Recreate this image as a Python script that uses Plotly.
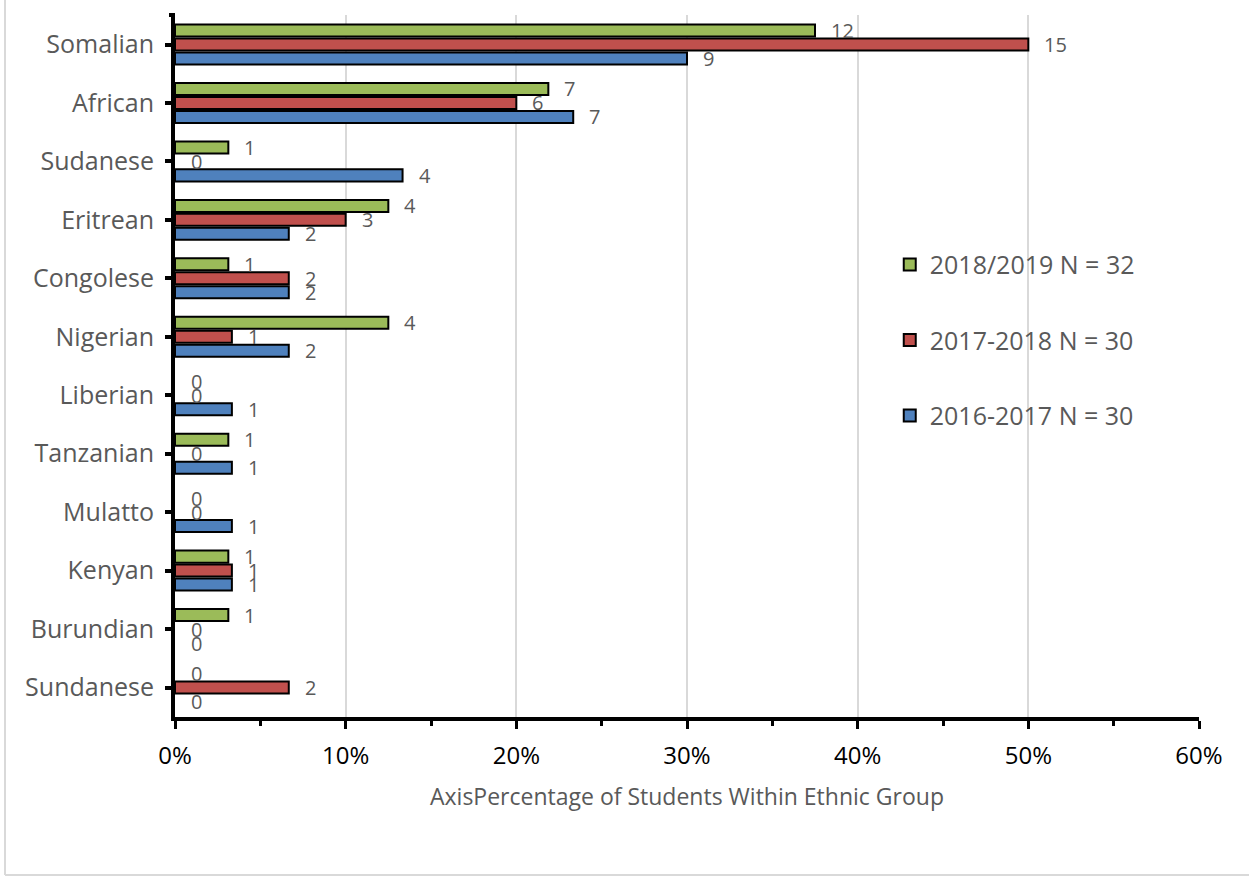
import plotly.graph_objects as go

# Ethnic groups, listed top to bottom
groups = ["Somalian", "African", "Sudanese", "Eritrean", "Congolese", "Nigerian",
          "Liberian", "Tanzanian", "Mulatto", "Kenyan", "Burundian", "Sundanese"]

# Student counts per school year
counts_1819 = [12, 7, 1, 4, 1, 4, 0, 1, 0, 1, 1, 0]
counts_1718 = [15, 6, 0, 3, 2, 1, 0, 0, 0, 1, 0, 2]
counts_1617 = [9, 7, 4, 2, 2, 2, 1, 1, 1, 1, 0, 0]

# Cohort sizes
n_1819 = 32
n_1718 = 30
n_1617 = 30

series = [
    ("2018/2019 N = 32", counts_1819, n_1819, "#9BBB59"),
    ("2017-2018 N = 30", counts_1718, n_1718, "#C0504D"),
    ("2016-2017 N = 30", counts_1617, n_1617, "#4F81BD"),
]

W, H = 1249, 876
ML, MR, MT, MB = 175, 50, 15, 159
PW, PH = W - ML - MR, H - MT - MB

FONT = "Open Sans"
GRAY = "#595959"

fig = go.Figure()
annotations = []
label_shift = [14, 0, -14]

for i, (name, counts, n, color) in enumerate(series):
    shares = [c / n for c in counts]
    # empty bars get no outline
    outline = [2 if c > 0 else 0 for c in counts]
    fig.add_trace(go.Bar(
        y=groups, x=shares, orientation="h", name=name,
        marker=dict(color=color, line=dict(color="black", width=outline)),
        legendgroup=name, hoverinfo="skip",
    ))
    for g, c, s in zip(groups, counts, shares):
        annotations.append(dict(
            x=s, y=g, xref="x", yref="y", text=str(c), showarrow=False,
            xanchor="left", yanchor="middle", xshift=14, yshift=label_shift[i],
            font=dict(family=FONT, size=20, color=GRAY),
        ))

def px_to_paper_x(px):
    return (px - ML) / PW

def px_to_paper_y(py):
    return (H - MB - py) / PH

shapes = [
    # light outer frame (left and bottom edges)
    dict(type="line", xref="paper", yref="paper",
         x0=px_to_paper_x(5), x1=px_to_paper_x(5),
         y0=px_to_paper_y(875), y1=px_to_paper_y(0),
         line=dict(color="#d9d9d9", width=2)),
    dict(type="line", xref="paper", yref="paper",
         x0=px_to_paper_x(5), x1=px_to_paper_x(1249),
         y0=px_to_paper_y(875), y1=px_to_paper_y(875),
         line=dict(color="#d9d9d9", width=2)),
    # cap tick at the top end of the category axis
    dict(type="line", xref="paper", yref="paper",
         x0=px_to_paper_x(169), x1=px_to_paper_x(175),
         y0=1, y1=1, line=dict(color="black", width=4)),
]

fig.update_layout(
    width=W, height=H,
    margin=dict(l=ML, r=MR, t=MT, b=MB),
    paper_bgcolor="white", plot_bgcolor="white",
    barmode="group", bargap=0.283, bargroupgap=0.14,
    font=dict(family=FONT, color=GRAY),
    annotations=annotations,
    shapes=shapes,
    legend=dict(
        x=0.698, y=0.677, xanchor="left", yanchor="top",
        font=dict(family=FONT, size=25, color=GRAY),
        traceorder="grouped", tracegroupgap=40,
        bgcolor="rgba(0,0,0,0)",
    ),
    xaxis=dict(
        range=[0, 0.6], dtick=0.1, tickformat=".0%",
        showgrid=True, gridcolor="#d9d9d9", gridwidth=2,
        showline=True, linecolor="black", linewidth=4,
        ticks="outside", ticklen=8, tickwidth=3, tickcolor="black",
        minor=dict(dtick=0.05, ticks="outside", ticklen=5, tickwidth=3,
                   tickcolor="black", showgrid=False),
        tickfont=dict(family=FONT, size=24, color="black"),
        ticklabelstandoff=6,
        zeroline=False,
        title=dict(text="AxisPercentage of Students Within Ethnic Group",
                   font=dict(family=FONT, size=23, color=GRAY), standoff=20),
    ),
    yaxis=dict(
        autorange="reversed",
        showline=True, linecolor="black", linewidth=4,
        ticks="outside", ticklen=6, tickwidth=4, tickcolor="black",
        tickfont=dict(family=FONT, size=25, color=GRAY),
        ticklabelstandoff=6,
        showgrid=False,
    ),
)

fig.write_html("out.html")
